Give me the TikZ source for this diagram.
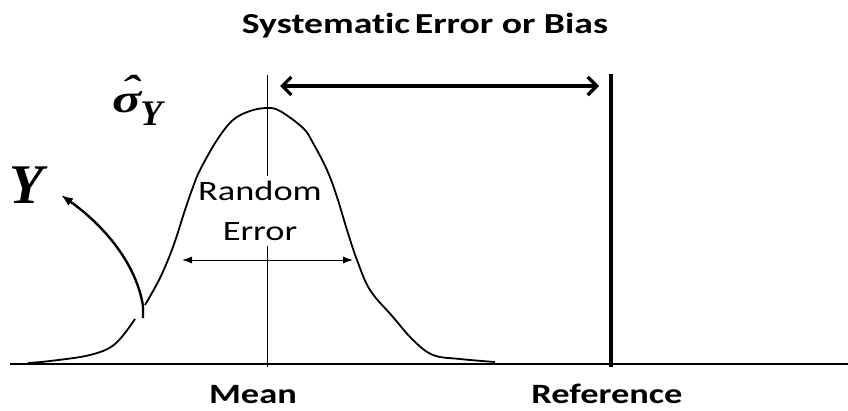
\documentclass[tikz,border=0pt]{standalone}
\usepackage{fontspec}
\setmainfont{Carlito}[Ligatures=NoCommon]
\newfontfamily\widesans{Carlito}[FakeStretch=1.3, Ligatures=NoCommon]
\newfontfamily\timesbi{Liberation Serif}[BoldItalicFont={* Bold Italic}]
\newfontfamily\timesbiw{Liberation Serif}[BoldItalicFont={* Bold Italic}, FakeStretch=1.35]
\usetikzlibrary{arrows.meta}
\tikzset{
  lbl/.style={font=\widesans\fontsize{28}{32}\selectfont\bfseries, inner sep=0pt},
  randlbl/.style={font=\widesans\fontsize{28}{40}\selectfont, align=center, inner sep=5pt},
  curveline/.style={line width=1.8pt, line join=round},
  thinline/.style={line width=1pt},
  refline/.style={line width=3.4pt},
  axisline/.style={line width=1.8pt},
  biasarrow/.style={line width=3.2pt, {Straight Barb[length=9pt,width=18pt,line width=3.2pt]}-{Straight Barb[length=9pt,width=18pt,line width=3.2pt]}},
  randarrow/.style={line width=1pt, {Latex[length=10pt,width=7pt]}-{Latex[length=10pt,width=7pt]}},
  yarrow/.style={line width=2.4pt, -{Latex[length=12pt,width=9pt]}},
}
\begin{document}
\begin{tikzpicture}[x=1pt,y=-1pt]
\useasboundingbox (0,0) rectangle (848,410);
% coordinates
\coordinate (axl) at (10,364);
\coordinate (axr) at (848,364);
\coordinate (mtop) at (267,75);
\coordinate (mbot) at (267,367);
\coordinate (rtop) at (611,74);
\coordinate (rbot) at (611,367);
\coordinate (bl) at (280,86);
\coordinate (br) at (599,86);
\coordinate (rl) at (182,260);
\coordinate (rr) at (353,260);
\coordinate (ys) at (143,318);
\coordinate (ym) at (143,306);
\coordinate (ytip) at (61,195);
% texts
\node[lbl, anchor=base, font=\widesans\fontsize{29}{32}\selectfont\bfseries] (title) at (425,33) {Systematic\,Error or Bias};
\node[lbl, anchor=base] (mean) at (253,403) {Mean};
\node[lbl, anchor=base] (ref) at (607,403) {Reference};
\node[randlbl] (rand) at (260,211) {Random\\Error};
\node[anchor=base west, inner sep=0pt, font=\timesbi\bfseries\itshape\fontsize{56}{56}\selectfont] (ylab) at (9,203) {Y};
\node[anchor=base west, inner sep=0pt, font=\timesbiw\bfseries\itshape\fontsize{40}{40}\selectfont] (sig) at (112,112) {\makebox[0pt][l]{\raisebox{0.22em}{\hspace{0.22em}ˆ}}σ\kern-1pt\raisebox{-13pt}{\timesbi\bfseries\itshape\fontsize{36}{36}\selectfont Y}};
% axis and lines
\draw[axisline] (axl) -- (axr);
\draw[thinline] (mtop) -- (mtop |- rand.north);
\draw[thinline] (mtop |- rand.south) -- (mbot);
\draw[refline] (rtop) -- (rbot);
% curve
\draw[curveline] plot[smooth, tension=0.6] coordinates {(28,363) (50,361) (90,355) (115,344) (135,319)};
\draw[curveline] plot[smooth, tension=0.6] coordinates {(145,305) (160,278) (173,247) (185,210) (193,187) (200,170) (217,140) (233,120) (250,111) (267,108) (280,111) (303,128) (313,143) (327,170) (337,197) (347,230) (357,260) (370,290) (393,317) (413,340) (433,355) (460,359) (495,362)};
% arrows
\draw[biasarrow] (bl) -- (br);
\draw[randarrow] (rl) -- (rr);
\draw[yarrow] (ys) -- (ym) .. controls (136,262) and (102,224) .. (ytip);
\end{tikzpicture}
\end{document}
